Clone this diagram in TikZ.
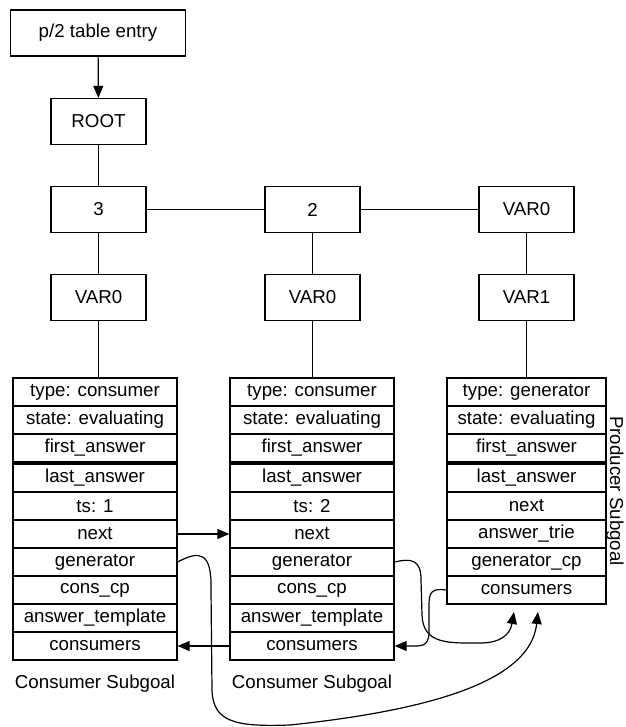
\documentclass[tikz,border=0pt]{standalone}
\usepackage{fontspec}
\setmainfont{Liberation Sans}
\usetikzlibrary{arrows.meta}

\begin{document}
\begin{tikzpicture}[x=1pt, y=-1pt,
  box/.style={draw, line width=1.2pt, minimum width=95pt, minimum height=46pt,
              inner sep=0pt, font=\fontsize{18.7}{22}\selectfont},
  cell/.style={draw, line width=1.2pt, minimum width=164pt, minimum height=28pt,
               inner sep=0pt, font=\fontsize{18.7}{22}\selectfont},
  lbl/.style={font=\fontsize{18.7}{22}\selectfont},
  link/.style={line width=1.2pt},
  arr/.style={-{Triangle[length=12pt,width=10pt]}, line width=1.2pt},
]
\useasboundingbox (0,0) rectangle (625,727);
% Table entry and trie
\node[box, minimum width=175pt] (entry) at (98,33) {p/2 table entry};
\node[box] (root) at (98.5,121.5) {ROOT};
\node[box] (n3) at (98.5,209.5) {3};
\node[box] (n2) at (312.5,209.5) {2};
\node[box] (n4) at (526.5,209.5) {VAR0};
\node[box] (v1) at (98.5,297.5) {VAR0};
\node[box] (v2) at (312.5,297.5) {VAR0};
\node[box] (v3) at (526.5,297.5) {VAR1};
\draw[arr] (entry) -- (root);
\draw[link] (root) -- (n3) (n3) -- (n2) -- (n4)
            (n3) -- (v1) (n2) -- (v2) (n4) -- (v3);
% Subgoal frames
\foreach [count=\i] \t in {type: consumer, state: evaluating, first\_answer,
    last\_answer, ts: 1, next, generator, cons\_cp, answer\_template, consumers}
  \node[cell] (a\i) at (95, {392+28*(\i-1)+2*(\i>3)}) {\t};
\foreach [count=\i] \t in {type: consumer, state: evaluating, first\_answer,
    last\_answer, ts: 2, next, generator, cons\_cp, answer\_template, consumers}
  \node[cell] (b\i) at (312, {392+28*(\i-1)+2*(\i>3)}) {\t};
\foreach [count=\i] \t in {type: generator, state: evaluating, first\_answer,
    last\_answer, next, answer\_trie, generator\_cp, consumers}
  \node[cell, minimum width=159pt] (c\i) at (526.5, {392+28*(\i-1)+2*(\i>3)}) {\t};
\draw[link] (v1) -- (v1 |- a1.north) (v2) -- (v2 |- b1.north) (v3) -- (v3 |- c1.north);
% Captions
\node[lbl] (acap) at (95,684) {Consumer Subgoal};
\node[lbl] (bcap) at (312,684) {Consumer Subgoal};
\node[lbl, rotate=-90, inner sep=1pt] (ccap) at (615,491) {Producer Subgoal};
% Pointers
\draw[arr] (a6) -- (b6);
\draw[arr] (b10) -- (a10);
\coordinate (tipa) at (538,612);
\coordinate (tipb) at (514,612);
\draw[arr] (a7.east) .. controls (200,550) and (212,552) .. (211,590)
  -- (212,690) .. controls (213,722) and (235,727) .. (290,725)
  .. controls (480,705) and (532,665) .. (tipa);
\draw[arr] (b7.east) .. controls (412,558) and (421,560) .. (421,580)
  -- (422,615) .. controls (423,645) and (450,643) .. (480,643)
  .. controls (500,643) and (510,635) .. (tipb);
\draw[arr] (c8.west) .. controls (432,588) and (429,592) .. (429,605)
  -- (429,632) .. controls (429,648) and (420,646) .. (b10.east);
\end{tikzpicture}
\end{document}
